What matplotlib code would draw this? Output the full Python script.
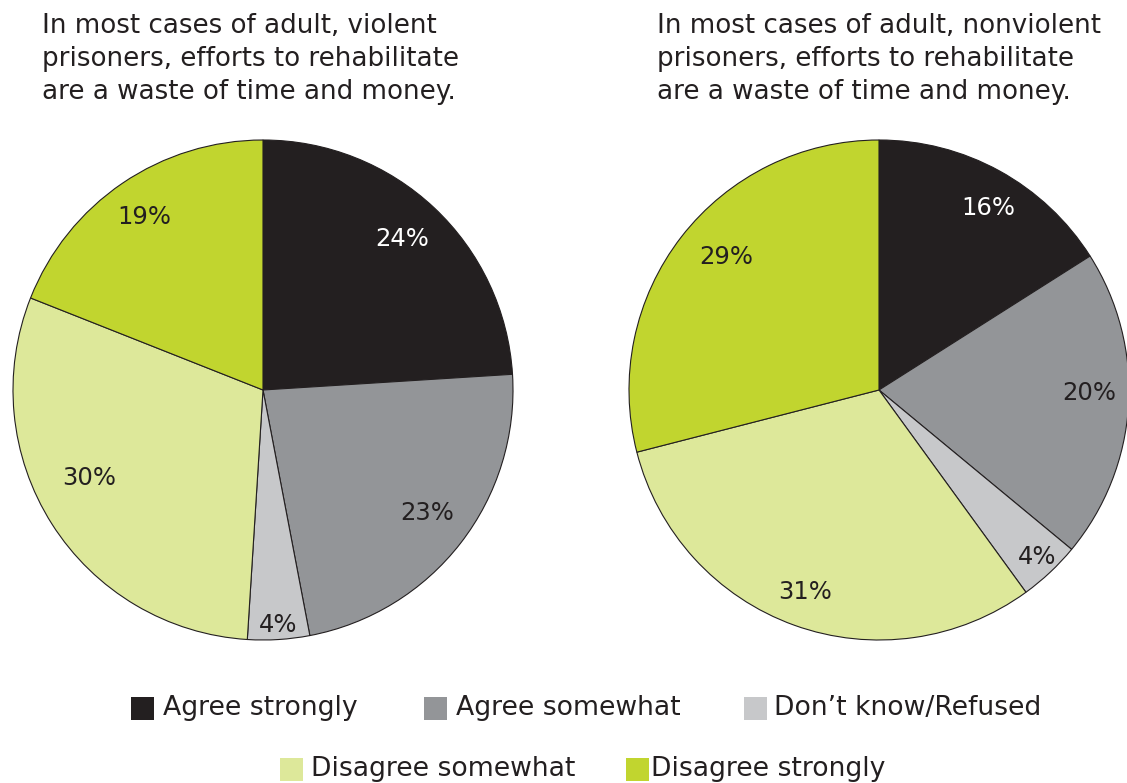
import numpy as np
import matplotlib
matplotlib.use("Agg")
import matplotlib.pyplot as plt
from matplotlib.patches import Rectangle

# categories and colours
categories = ["Agree strongly", "Agree somewhat", "Don\u2019t know/Refused",
              "Disagree somewhat", "Disagree strongly"]
colors = ["#231f20", "#939598", "#c7c8ca", "#dde89a", "#c1d52f"]

# survey values (percent)
violent = [24, 23, 4, 30, 19]
nonviolent = [16, 20, 4, 31, 29]

titles = [
    ["In most cases of adult, violent", "prisoners, efforts to rehabilitate",
     "are a waste of time and money."],
    ["In most cases of adult, nonviolent", "prisoners, efforts to rehabilitate",
     "are a waste of time and money."],
]

# label placement (radius fraction, angle nudge in degrees)
label_r = [[0.82, 0.82, 0.94, 0.78, 0.84], [0.85, 0.84, 0.92, 0.86, 0.81]]
label_nudge = [[0.6, 1.1, 0.1, -5.6, 0.1], [-2.1, 2.8, 0.1, -0.2, -3.2]]

FONT = "DejaVu Sans"
TXT = "#231f20"
W, H = 1127, 783

fig = plt.figure(figsize=(W / 100, H / 100), dpi=100)
fig.patch.set_facecolor("white")


def px_axes(cx, cy, r):
    return fig.add_axes([(cx - r) / W, (H - cy - r) / H, 2 * r / W, 2 * r / H])


centers = [(263, 390), (879, 390)]
title_x = [42, 657]
title_base = [33, 66, 99]

for i, vals in enumerate([violent, nonviolent]):
    ax = px_axes(centers[i][0], centers[i][1], 250)
    wedges, _ = ax.pie(vals, colors=colors, startangle=90, counterclock=False,
                       wedgeprops=dict(edgecolor="#231f20", linewidth=0.8),
                       radius=1.0)
    for j, w in enumerate(wedges):
        ang = np.deg2rad((w.theta1 + w.theta2) / 2 + label_nudge[i][j])
        r = label_r[i][j]
        ax.text(r * np.cos(ang), r * np.sin(ang), f"{vals[j]}%",
                ha="center", va="center", fontsize=17.5, family=FONT,
                color="white" if j == 0 else TXT)
    ax.set_xlim(-1, 1)
    ax.set_ylim(-1, 1)
    ax.set_aspect("equal")
    ax.axis("off")
    for w in wedges:
        w.set_clip_on(False)

    for line, yb in zip(titles[i], title_base):
        fig.text(title_x[i] / W, 1 - yb / H, line, ha="left", va="baseline",
                 fontsize=18.8, family=FONT, color=TXT)

# legend, drawn as two centred rows
rows = [[0, 1, 2], [3, 4]]
row_y = [708, 769]
row_x = [[131, 424, 744], [280, 626]]
text_pad = [[9, 9, 7], [8, 2]]
box = 23
for r, idxs in enumerate(rows):
    for k, idx in enumerate(idxs):
        x0 = row_x[r][k]
        fig.patches.append(Rectangle((x0 / W, (H - row_y[r] - box / 2) / H),
                                     box / W, box / H, transform=fig.transFigure,
                                     facecolor=colors[idx], edgecolor="none"))
        fig.text((x0 + box + text_pad[r][k]) / W, (H - row_y[r]) / H, categories[idx],
                 ha="left", va="center", fontsize=19.2, family=FONT, color=TXT)

fig.savefig("out.png", dpi=100, facecolor="white")
